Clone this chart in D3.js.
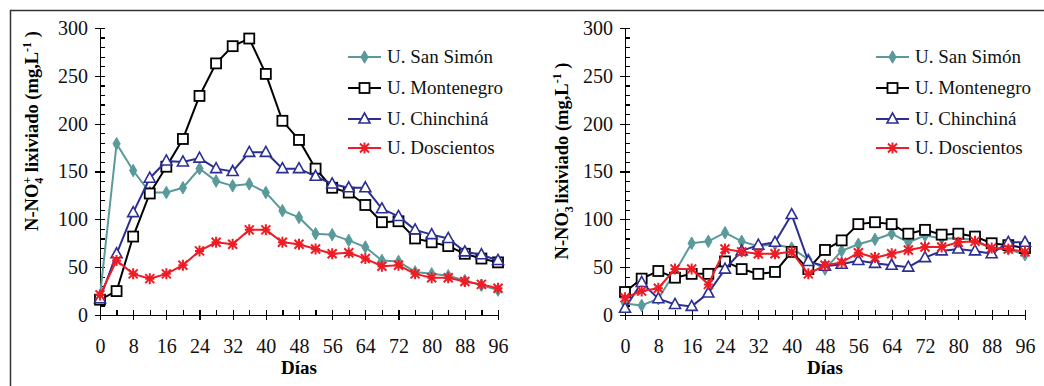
<!DOCTYPE html>
<html>
<head>
<meta charset="utf-8">
<script src="https://cdn.jsdelivr.net/npm/d3@7"></script>
<style>
  html, body { margin: 0; padding: 0; background: #fff; }
  svg { display: block; font-family: "Liberation Serif", "Times New Roman", serif; }
  .axis path, .axis line { stroke: #000; stroke-width: 1.2; shape-rendering: crispEdges; }
  .axis text { font-size: 20px; fill: #111; font-family: "Liberation Serif", serif; }
</style>
</head>
<body>
<div id="chart"></div>
<script>
"use strict";

// sampling days
var days = [0, 4, 8, 12, 16, 20, 24, 28, 32, 36, 40, 44, 48, 52, 56, 60, 64, 68, 72, 76, 80, 84, 88, 92, 96];
var xTickLabels = [0, 8, 16, 24, 32, 40, 48, 56, 64, 72, 80, 88, 96];
var yTickLabels = [0, 50, 100, 150, 200, 250, 300];

var seriesNames = ["U. San Simón", "U. Montenegro", "U. Chinchiná", "U. Doscientos"];

// N-NH4+ (left panel)
var sanSimonNH4   = [20, 179, 151, 128, 128, 133, 153, 140, 135, 137, 128, 109, 102, 85, 84, 78, 71, 57, 56, 45, 43, 41, 36, 31, 26];
var montenegroNH4 = [16, 25, 82, 127, 155, 184, 229, 263, 281, 289, 252, 203, 183, 153, 133, 128, 115, 97, 98, 80, 76, 72, 64, 59, 55];
var chinchinaNH4  = [17, 64, 107, 143, 161, 160, 164, 153, 150, 170, 170, 153, 153, 145, 137, 133, 133, 111, 103, 89, 84, 80, 66, 63, 57];
var doscientosNH4 = [21, 57, 43, 38, 43, 52, 67, 76, 74, 89, 89, 76, 74, 69, 64, 65, 59, 51, 52, 43, 39, 39, 35, 32, 28];

// N-NO3- (right panel)
var sanSimonNO3   = [12, 10, 17, 45, 75, 77, 86, 77, 72, 74, 70, 58, 48, 67, 74, 79, 85, 76, 83, 80, 80, 79, 69, 69, 63];
var montenegroNO3 = [24, 38, 46, 39, 43, 43, 56, 48, 43, 45, 66, 48, 68, 78, 95, 97, 95, 85, 89, 84, 85, 82, 75, 73, 70];
var chinchinaNO3  = [7, 34, 17, 11, 9, 23, 48, 67, 73, 76, 105, 56, 51, 53, 57, 54, 52, 50, 60, 67, 69, 67, 64, 76, 76];
var doscientosNO3 = [18, 25, 28, 48, 48, 32, 69, 66, 64, 64, 66, 43, 52, 55, 65, 60, 64, 68, 71, 71, 76, 77, 70, 69, 66];

var styles = [
    { color: "#5b9a9a", marker: "diamond" },
    { color: "#000000", marker: "square" },
    { color: "#2b2e92", marker: "triangle" },
    { color: "#ee1c25", marker: "star" }
];

var svg = d3.select("#chart").append("svg")
    .attr("width", 1044)
    .attr("height", 386);

// frame (only left and top show in the crop)
svg.append("path")
    .attr("d", "M10.5,386 L10.5,10.5 L1044,10.5")
    .attr("fill", "none")
    .attr("stroke", "#333")
    .attr("stroke-width", 1.5);

function drawMarker(g, type, color, x, y) {
    if (type === "diamond") {
        g.append("path")
            .attr("transform", "translate(" + x + "," + y + ")")
            .attr("d", d3.symbol().type(d3.symbolDiamond).size(45)())
            .attr("fill", color)
            .attr("stroke", color)
            .attr("stroke-width", 1);
    } else if (type === "square") {
        g.append("rect")
            .attr("x", x - 5).attr("y", y - 5)
            .attr("width", 10).attr("height", 10)
            .attr("fill", "#fff")
            .attr("stroke", color)
            .attr("stroke-width", 1.8);
    } else if (type === "triangle") {
        g.append("path")
            .attr("d", "M" + x + "," + (y - 6) + " L" + (x + 5.5) + "," + (y + 4) + " L" + (x - 5.5) + "," + (y + 4) + "Z")
            .attr("fill", "#fff")
            .attr("stroke", color)
            .attr("stroke-width", 1.6);
    } else {
        var r = 4.5;
        g.append("path")
            .attr("d", "M" + (x - r) + "," + (y - r) + "L" + (x + r) + "," + (y + r) +
                       "M" + (x - r) + "," + (y + r) + "L" + (x + r) + "," + (y - r) +
                       "M" + x + "," + (y - r - 1) + "L" + x + "," + (y + r + 1) +
                       "M" + (x - r) + "," + y + "L" + (x + r) + "," + y)
            .attr("stroke", color)
            .attr("stroke-width", 2)
            .attr("fill", "none");
    }
}

function drawPanel(opts) {
    var x = d3.scaleLinear().domain([0, 96]).range([opts.left, opts.right]);
    var y = d3.scaleLinear().domain([0, 300]).range([315, 28]);

    // y axis: major ticks cross, minor ticks inside
    svg.append("g")
        .attr("class", "axis")
        .attr("transform", "translate(" + opts.left + ",0)")
        .call(d3.axisLeft(y).tickValues(yTickLabels).tickSize(5).tickSizeOuter(0).tickPadding(7));
    svg.append("g")
        .attr("class", "axis")
        .attr("transform", "translate(" + opts.left + ",0)")
        .call(d3.axisRight(y).tickValues(d3.range(0, 301, 10)).tickSize(5).tickSizeOuter(0).tickFormat(""));

    // x axis
    svg.append("g")
        .attr("class", "axis")
        .attr("transform", "translate(0,315)")
        .call(d3.axisBottom(x).tickValues(xTickLabels).tickSize(5).tickSizeOuter(0).tickPadding(19));
    svg.append("g")
        .attr("class", "axis")
        .attr("transform", "translate(0,315)")
        .call(d3.axisTop(x).tickValues(days).tickSize(5).tickSizeOuter(0).tickFormat(""));

    svg.append("text")
        .attr("x", (opts.left + opts.right) / 2)
        .attr("y", 374)
        .attr("text-anchor", "middle")
        .attr("font-weight", "bold")
        .attr("font-size", "19px")
        .text("Días");

    // y label with stacked sub/superscript
    var lab = svg.append("text")
        .attr("transform", "translate(" + opts.labelX + "," + opts.labelY + ") rotate(-90)")
        .attr("text-anchor", "middle")
        .attr("font-weight", "bold")
        .attr("font-size", "18.5px");
    lab.append("tspan").text("N-NO");
    lab.append("tspan").attr("font-size", "12px").attr("dy", 5).text(opts.sub);
    lab.append("tspan").attr("font-size", "12px").attr("dx", -6).attr("dy", -12).text(opts.sup);
    lab.append("tspan").attr("dy", 7).text(" lixiviado (mg,L");
    lab.append("tspan").attr("font-size", "12px").attr("dy", -7).text("-1");
    lab.append("tspan").attr("dy", 7).text(" )");

    var line = d3.line()
        .x(function (d, i) { return x(days[i]); })
        .y(function (d) { return y(d); });

    opts.series.forEach(function (vals, k) {
        var st = styles[k];
        var g = svg.append("g");
        g.append("path")
            .datum(vals)
            .attr("d", line)
            .attr("fill", "none")
            .attr("stroke", st.color)
            .attr("stroke-width", 2);
        vals.forEach(function (v, i) {
            drawMarker(g, st.marker, st.color, x(days[i]), y(v));
        });
    });

    // legend
    var legendY = [57, 88, 119, 148];
    seriesNames.forEach(function (name, k) {
        var st = styles[k];
        var g = svg.append("g");
        g.append("line")
            .attr("x1", opts.legendX).attr("x2", opts.legendX + 33)
            .attr("y1", legendY[k]).attr("y2", legendY[k])
            .attr("stroke", st.color)
            .attr("stroke-width", 2);
        drawMarker(g, st.marker, st.color, opts.legendX + 16.5, legendY[k]);
        g.append("text")
            .attr("x", opts.legendX + 39)
            .attr("y", legendY[k] + 6)
            .attr("font-size", "19px")
            .attr("fill", "#111")
            .text(name);
    });
}

drawPanel({
    left: 100, right: 498,
    labelX: 38, labelY: 131,
    sub: "4", sup: "+",
    series: [sanSimonNH4, montenegroNH4, chinchinaNH4, doscientosNH4],
    legendX: 348
});

drawPanel({
    left: 625, right: 1025,
    labelX: 568, labelY: 161,
    sub: "3", sup: "-",
    series: [sanSimonNO3, montenegroNO3, chinchinaNO3, doscientosNO3],
    legendX: 876
});
</script>
</body>
</html>
